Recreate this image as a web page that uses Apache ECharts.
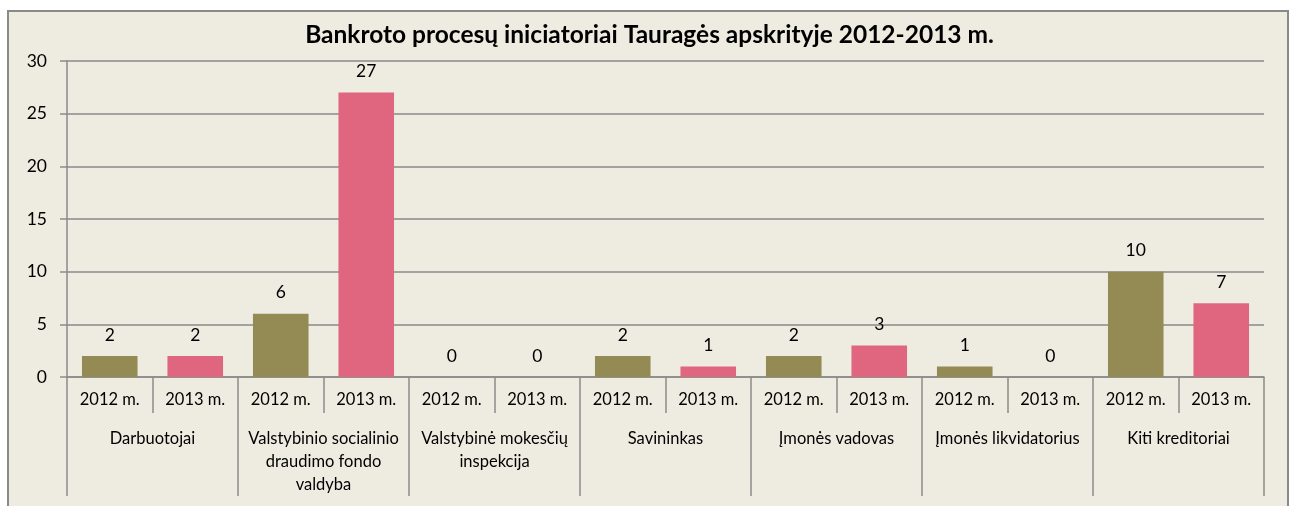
<!DOCTYPE html>
<html>
<head>
<meta charset="utf-8">
<script src="https://cdn.jsdelivr.net/npm/echarts@6/dist/echarts.min.js"></script>
<style>
html,body{margin:0;padding:0;background:#fff;width:1299px;height:506px;overflow:hidden;}
#frame{position:absolute;left:7px;top:10px;width:1282px;height:520px;border:2px solid #8a8a8a;background:#EEECE1;box-sizing:border-box;}
#chart{position:absolute;left:0;top:0;width:1299px;height:506px;}
</style>
</head>
<body>
<div id="frame"></div>
<div id="chart"></div>
<script>
const titleText = 'Bankroto procesų iniciatoriai Tauragės apskrityje 2012-2013 m.';
const groups = [
  'Darbuotojai',
  'Valstybinio socialinio\ndraudimo fondo\nvaldyba',
  'Valstybinė mokesčių\ninspekcija',
  'Savininkas',
  'Įmonės vadovas',
  'Įmonės likvidatorius',
  'Kiti kreditoriai'
];
const years = ['2012 m.', '2013 m.'];
const values2012 = [2, 6, 0, 2, 2, 1, 10];
const values2013 = [2, 27, 0, 1, 3, 0, 7];
const yTicks = [0, 5, 10, 15, 20, 25, 30];

const colors = ['#948A54', '#E0667F'];
const font = 'Lato, "Noto Sans", sans-serif';

const subCats = [];
const barData = [];
groups.forEach((g, i) => {
  subCats.push(years[0], years[1]);
  barData.push({ value: values2012[i], itemStyle: { color: colors[0] } });
  barData.push({ value: values2013[i], itemStyle: { color: colors[1] } });
});

const chart = echarts.init(document.getElementById('chart'), null, { renderer: 'canvas' });
chart.setOption({
  backgroundColor: 'transparent',
  animation: false,
  textStyle: { fontFamily: font },
  title: {
    text: titleText,
    left: 'center',
    top: 18,
    textStyle: { fontFamily: font, fontWeight: 'bold', fontSize: 24.5, color: '#000' }
  },
  grid: { left: 67, right: 35, top: 61, bottom: 129, containLabel: false },
  xAxis: [
    {
      type: 'category',
      data: subCats,
      position: 'bottom',
      axisLine: { show: true, lineStyle: { color: '#8a8a8a', width: 1.5 } },
      axisTick: { show: true, interval: 0, length: 36, lineStyle: { color: '#8a8a8a', width: 1.5 } },
      axisLabel: { interval: 0, margin: 14, fontSize: 16.5, color: '#000', fontFamily: font },
      splitLine: { show: false }
    },
    {
      type: 'category',
      data: groups,
      position: 'bottom',
      axisLine: { show: false },
      axisTick: { show: true, interval: 0, length: 119, lineStyle: { color: '#8a8a8a', width: 1.5 } },
      axisLabel: { interval: 0, margin: 50, fontSize: 16.5, lineHeight: 23, color: '#000', fontFamily: font, align: 'center' },
      splitLine: { show: false }
    }
  ],
  yAxis: {
    type: 'value',
    min: yTicks[0],
    max: yTicks[yTicks.length - 1],
    interval: 5,
    axisLine: { show: true, lineStyle: { color: '#8a8a8a', width: 1.5 } },
    axisTick: { show: true, length: 7, lineStyle: { color: '#8a8a8a', width: 1.5 } },
    axisLabel: { margin: 20, fontSize: 17.5, color: '#000', fontFamily: font },
    splitLine: { show: true, lineStyle: { color: '#8a8a8a', width: 1.5 } }
  },
  series: [
    {
      type: 'bar',
      xAxisIndex: 0,
      data: barData,
      barWidth: '65%',
      label: { show: true, position: 'top', distance: 12, fontSize: 17.5, color: '#000', fontFamily: font }
    }
  ]
});
</script>
</body>
</html>
